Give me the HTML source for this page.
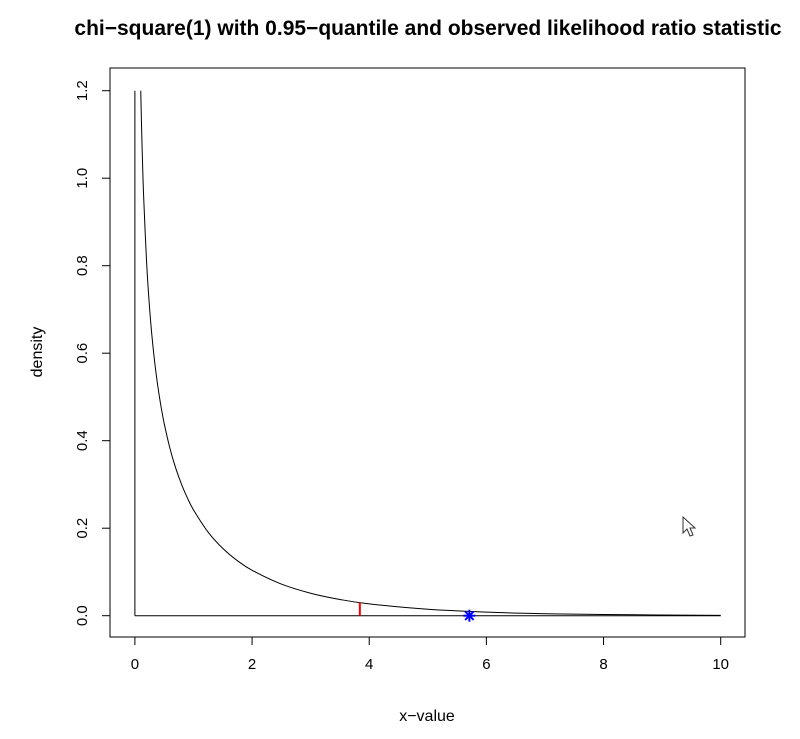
<!DOCTYPE html>
<html><head><meta charset="utf-8"><style>
body{margin:0;background:#fff;}
svg text{font-family:"Liberation Sans",sans-serif;fill:#000;}
</style></head><body>
<svg width="800" height="734" viewBox="0 0 800 734">
<text x="428" y="35" font-size="21" font-weight="bold" text-anchor="middle">chi−square(1) with 0.95−quantile and observed likelihood ratio statistic</text>
<rect x="110" y="68" width="635" height="569" fill="none" stroke="#000" stroke-width="1"/>
<g id="xaxis"></g>
<g id="yaxis"></g>
<g id="marks"></g>
<text x="427" y="721" font-size="16" text-anchor="middle">x−value</text>
<text x="0" y="0" font-size="16" text-anchor="middle" transform="translate(42,352) rotate(-90)">density</text>
<path d="M683,517 L683,533 L687,529 L690,536 L693,535 L690,528 L695,528 Z" fill="#fff" stroke="#333" stroke-width="1"/>
</svg>
<script>
const xTicks=[0,2,4,6,8,10];
const yTicks=[0.0,0.2,0.4,0.6,0.8,1.0,1.2];
const yTickLabels=["0.0","0.2","0.4","0.6","0.8","1.0","1.2"];
const curveX=[0.1,0.11,0.12,0.13,0.15,0.2,0.25,0.3,0.35,0.4,0.45,0.5,0.6,0.7,0.8,0.9,1.0,1.25,1.5,1.75,2,2.5,3,3.5,4,5,6,7,8,10];
const curveY=[1.21,1.1385,1.0846,1.0369,0.9556,0.8071,0.7041,0.6269,0.5661,0.5165,0.4749,0.4394,0.3815,0.336,0.299,0.2681,0.242,0.191,0.1539,0.1257,0.1038,0.0723,0.0514,0.0371,0.027,0.0146,0.0081,0.0046,0.0026,0.00085];
const quantileX=[3.84];
const quantileY=[0.0298];
const observedX=[5.71];
const observedY=[0];
const NS="http://www.w3.org/2000/svg";
const sx=v=>134.9+v*58.58;
const sy=v=>615.7-v*437.5;
function mk(tag,attrs,parent){const e=document.createElementNS(NS,tag);for(const k in attrs)e.setAttribute(k,attrs[k]);parent.appendChild(e);return e;}
const xa=document.getElementById('xaxis'),ya=document.getElementById('yaxis'),mg=document.getElementById('marks');
mk('line',{x1:sx(xTicks[0]),x2:sx(xTicks[xTicks.length-1]),y1:637,y2:637,stroke:'#000'},xa);
xTicks.forEach(t=>{
 const l=mk('line',{x1:sx(t),x2:sx(t),y1:637,y2:645,stroke:'#000'},xa);
 
 
 const tx=mk('text',{x:sx(t),y:669,'font-size':15,'text-anchor':'middle'},xa);tx.textContent=t;
 
 
});
mk('line',{x1:110,x2:110,y1:sy(yTicks[0]),y2:sy(yTicks[yTicks.length-1]),stroke:'#000'},ya);
yTicks.forEach((t,i)=>{
 const l=mk('line',{x1:102,x2:110,y1:sy(t),y2:sy(t),stroke:'#000'},ya);
 
 
 const tx=mk('text',{x:0,y:0,'font-size':15,'text-anchor':'middle',transform:`translate(87,${sy(t)}) rotate(-90)`},ya);tx.textContent=yTickLabels[i];
 
 
});
const vl=mk('line',{x1:sx(0),x2:sx(0),y1:sy(0),y2:sy(1.2),stroke:'#000'},mg);


const hl=mk('line',{x1:sx(0),x2:sx(10),y1:sy(0),y2:sy(0),stroke:'#000'},mg);


const pts=curveX.map((x,i)=>[sx(x),sy(Math.min(curveY[i],1.2))]);
let d='M'+pts[0][0].toFixed(2)+','+pts[0][1].toFixed(2);
for(let i=0;i<pts.length-1;i++){
 const p0=pts[Math.max(i-1,0)],p1=pts[i],p2=pts[i+1],p3=pts[Math.min(i+2,pts.length-1)];
 const c1=[p1[0]+(p2[0]-p0[0])/6,p1[1]+(p2[1]-p0[1])/6];
 const c2=[p2[0]-(p3[0]-p1[0])/6,p2[1]-(p3[1]-p1[1])/6];
 d+=`C${c1[0].toFixed(2)},${c1[1].toFixed(2)} ${c2[0].toFixed(2)},${c2[1].toFixed(2)} ${p2[0].toFixed(2)},${p2[1].toFixed(2)}`;
}
const cp=mk('path',{d:d,fill:'none',stroke:'#000','stroke-width':1},mg);


quantileX.forEach((x,i)=>{
 const q=mk('line',{x1:sx(x),x2:sx(x),y1:sy(0),y2:sy(quantileY[i]),stroke:'#f00','stroke-width':2},mg);
 
 
});
observedX.forEach((x,i)=>{
 const cx=sx(x),cy=sy(observedY[i]);
 const g=mk('g',{stroke:'#00f','stroke-width':2},mg);
 
 
 for(let a=0;a<4;a++){const an=a*Math.PI/4,r=6;mk('line',{x1:cx-r*Math.cos(an),y1:cy-r*Math.sin(an),x2:cx+r*Math.cos(an),y2:cy+r*Math.sin(an)},g);}
});
</script>
</body></html>
